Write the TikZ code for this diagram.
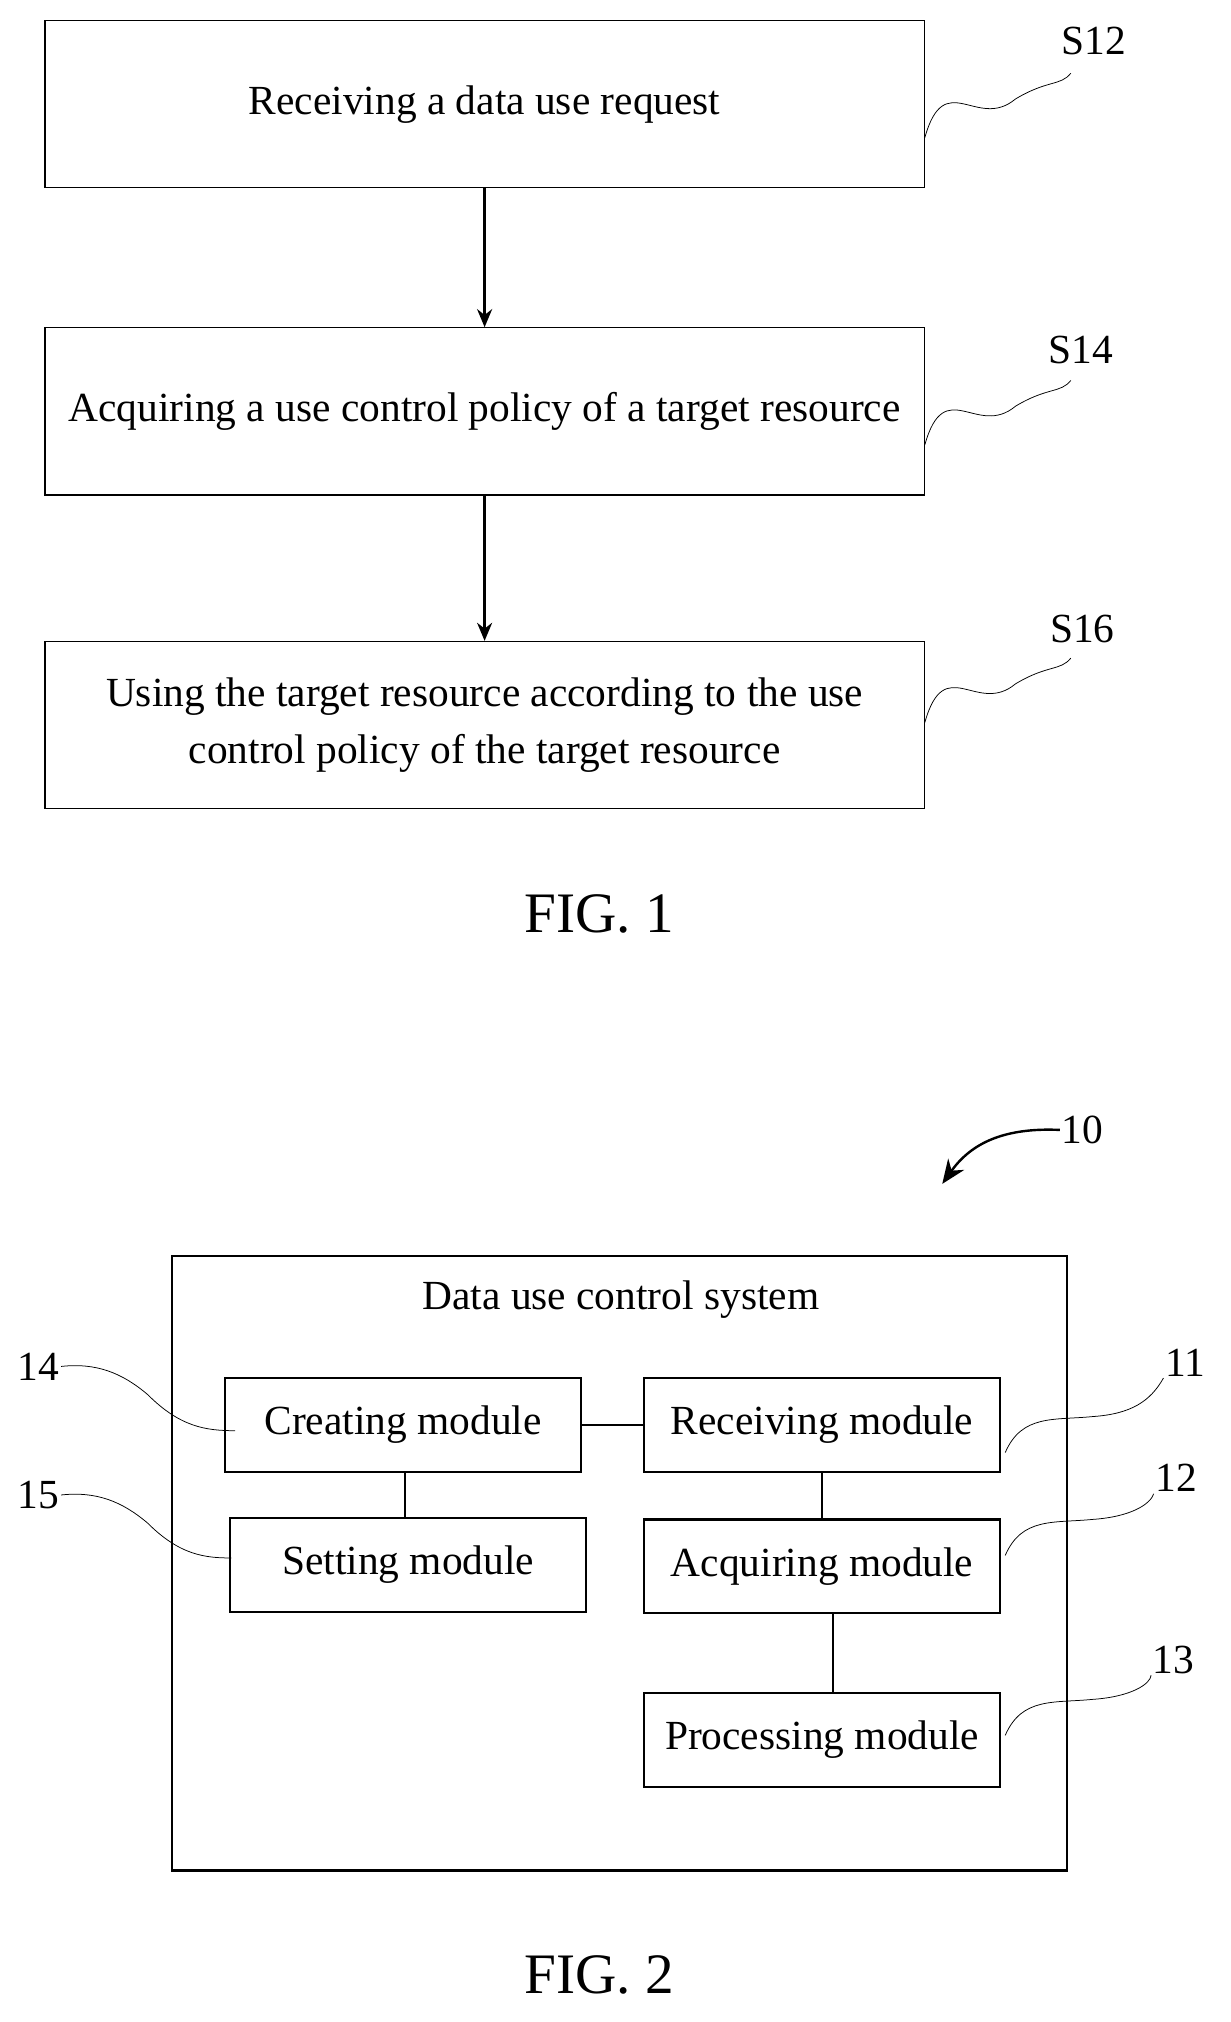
\documentclass[tikz,border=0pt]{standalone}
\usepackage{fontspec}
\setmainfont{Liberation Serif}
\usetikzlibrary{positioning,arrows.meta}
\tikzset{
  stepbox/.style={draw,line width=0.8pt,minimum width=684*0.03cm,minimum height=130*0.03cm,align=center,font=\fontsize{27.5}{38}\selectfont},
  mod/.style={draw,line width=1.6pt,minimum width=277*0.03cm,minimum height=73*0.03cm,inner sep=1pt,font=\fontsize{27.5}{32}\selectfont},
  tag/.style={font=\fontsize{27.5}{32}\selectfont,inner sep=1pt},
  wave/.style={line width=0.5pt},
  flow/.style={line width=1.5pt,-{Stealth[length=12pt,width=10pt]}}
}
\begin{document}
\begin{tikzpicture}[x=0.03cm,y=-0.03cm]
\useasboundingbox (0,0) rectangle (957,1573);
% FIG. 1
\node[stepbox] (s12) at (377,81) {Receiving a data use request};
\node[stepbox] (s14) at (377,320) {Acquiring a use control policy of a target resource};
\node[stepbox] (s16) at (377,564) {Using the target resource according to the use\\control policy of the target resource};
\draw[flow] (s12) -- (s14);
\draw[flow] (s14) -- (s16);
\node[tag] (l12) at (851,32) {S12};
\node[tag] (l14) at (841,272) {S14};
\node[tag] (l16) at (842,489) {S16};
\foreach \s/\y in {12/107,14/346,16/562} {
  \draw[wave] (s\s.east |- 0,\y) .. controls (735,\y-55) and (760,\y-5) .. (790,\y-30)
    .. controls (815,\y-45) and (825,\y-40) .. (833,\y-50);
}
\node[font=\fontsize{38}{44}\selectfont] (fig1) at (466,711) {FIG. 1};
% FIG. 2
\draw[line width=1.6pt] (134,977) rectangle (830,1455);
\node[tag] (title) at (483,1011) {Data use control system};
\node[mod] (create) at (313.5,1108.5) {Creating module};
\node[mod] (recv) at (639.5,1108.5) {Receiving module};
\node[mod] (set) at (317.5,1217.5) {Setting module};
\node[mod] (acq) at (639.5,1218.5) {Acquiring module};
\node[mod] (proc) at (639.5,1353.5) {Processing module};
\draw[line width=1.6pt] (create) -- (recv);
\draw[line width=1.6pt] (315,1145) -- (315,1181);
\draw[line width=1.6pt] (recv) -- (acq);
\draw[line width=1.6pt] (648,1255) -- (648,1317);
\node[tag] (l14m) at (30,1063) {14};
\node[tag] (l15m) at (30,1163) {15};
\node[tag] (l11m) at (922,1060) {11};
\node[tag] (l12m) at (915,1150) {12};
\node[tag] (l13m) at (913,1291) {13};
\draw[wave] (l14m.east) .. controls (75,1060) and (95,1068) .. (115,1085) .. controls (140,1110) and (160,1113) .. (183,1113);
\draw[wave] (l15m.east) .. controls (75,1160) and (95,1168) .. (115,1185) .. controls (140,1210) and (160,1212) .. (180,1212);
\foreach \l/\y in {l11m/1130,l12m/1210,l13m/1350} {
  \draw[wave] (782,\y) .. controls (795,\y-30) and (820,\y-25) .. (850,\y-28) .. controls (880,\y-30) and (895,\y-40) .. (\l.south west);
}
\node[tag] (l10) at (842,879) {10};
\coordinate (a10) at (733,921);
\draw[line width=1.6pt,-{Stealth[length=16pt,width=13pt]}] (l10.west) .. controls (780,877) and (755,890) .. (a10);
\node[font=\fontsize{38}{44}\selectfont] (fig2) at (466,1536) {FIG. 2};
\end{tikzpicture}
\end{document}
